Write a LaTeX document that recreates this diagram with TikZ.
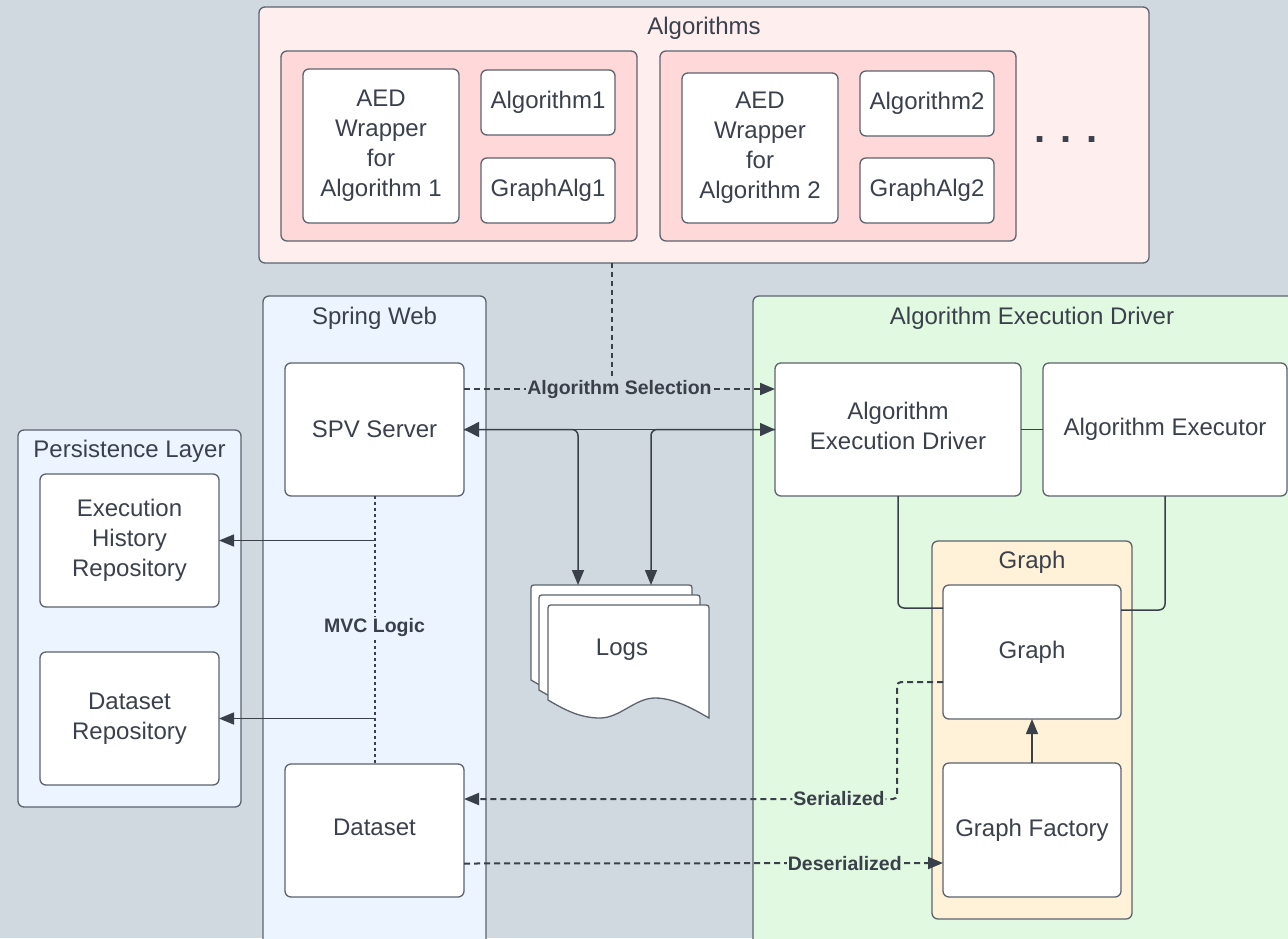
\documentclass[tikz,border=0pt]{standalone}
\usepackage{fontspec}
\setmainfont{Liberation Sans}
\usetikzlibrary{arrows.meta,calc}
\definecolor{bgc}{RGB}{209,217,224}
\definecolor{pinkc}{RGB}{255,238,238}
\definecolor{pinkd}{RGB}{255,216,218}
\definecolor{bluec}{RGB}{236,244,255}
\definecolor{greenc}{RGB}{224,249,224}
\definecolor{orangec}{RGB}{255,242,217}
\definecolor{strokec}{RGB}{92,99,110}
\definecolor{textc}{RGB}{58,65,76}
\definecolor{linec}{RGB}{58,64,74}
\begin{document}
\begin{tikzpicture}[x=1pt,y=-1pt,
  base/.style={draw=strokec, line width=1.3pt, rounded corners=6pt, inner sep=0pt, outer sep=0pt, align=center, text=textc, font=\fontsize{24}{30}\selectfont},
  box/.style={base, fill=white},
  title/.style={text=textc, font=\fontsize{24}{30}\selectfont, inner sep=0pt},
  conn/.style={draw=linec, line width=1.5pt},
  tip/.style={-{Triangle[length=15pt,width=12pt]}},
  dtip/.style={{Triangle[length=15pt,width=15pt]}-{Triangle[length=15pt,width=13pt]}},
  dashline/.style={conn, line width=2pt, dash pattern=on 6pt off 4pt},
  dotline/.style={conn, line width=2pt, dash pattern=on 3pt off 3pt},
  lbl/.style={font=\fontsize{19.5}{22}\bfseries\selectfont, text=linec, inner sep=1pt},
  logpage/.style={draw=strokec, fill=white, line width=1.3pt},
]
\useasboundingbox (0,0) rectangle (1288,938);
\fill[bgc] (0,0) rectangle (1288,938);
\clip (0,0) rectangle (1288,938);

% ---------- Algorithms ----------
\node[base, fill=pinkc, minimum width=890pt, minimum height=256pt] (algs) at (704,135) {};
\node[title] (algsT) at (704,28) {Algorithms};
\node[base, fill=pinkd, minimum width=356pt, minimum height=190pt] (grp1) at (459,146) {};
\node[box, minimum width=156pt, minimum height=154pt] (aed1) at (381,146) {AED\\Wrapper\\for\\Algorithm 1};
\node[box, minimum width=134pt, minimum height=65pt] (alg1) at (548,102.5) {Algorithm1};
\node[box, minimum width=134pt, minimum height=65pt] (galg1) at (548,190.5) {GraphAlg1};
\node[base, fill=pinkd, minimum width=356pt, minimum height=190pt] (grp2) at (838,146) {};
\node[box, minimum width=156pt, minimum height=150pt] (aed2) at (760,148) {AED\\Wrapper\\for\\Algorithm 2};
\node[box, minimum width=134pt, minimum height=65pt] (alg2) at (927,103.5) {Algorithm2};
\node[box, minimum width=134pt, minimum height=65pt] (galg2) at (927,190.5) {GraphAlg2};
\node[text=textc, font=\fontsize{40}{40}\bfseries\selectfont, inner sep=0pt] (dots) at (1066,140) {. . .};

% ---------- Spring Web ----------
\node[base, fill=bluec, minimum width=223pt, minimum height=660pt] (spring) at (374.5,626) {};
\node[title] (springT) at (374.5,318) {Spring Web};
\node[box, minimum width=179pt, minimum height=133pt] (spv) at (374.5,429.5) {SPV Server};
\node[box, minimum width=179pt, minimum height=133pt] (dataset) at (374.5,830.5) {\raisebox{3pt}[\height][\depth]{Dataset}};

% ---------- Persistence Layer ----------
\node[base, fill=bluec, minimum width=223pt, minimum height=377pt] (persist) at (129.5,618.5) {};
\node[title] (persistT) at (129.5,451) {Persistence Layer};
\node[box, minimum width=179pt, minimum height=133pt] (ehr) at (129.5,540.5) {Execution\\History\\Repository};
\node[box, minimum width=179pt, minimum height=133pt] (drepo) at (129.5,718.5) {Dataset\\Repository};

% ---------- Algorithm Execution Driver ----------
\node[base, fill=greenc, minimum width=560pt, minimum height=660pt] (aedc) at (1033,626) {};
\node[title] (aedcT) at (1032,318) {Algorithm Execution Driver};
\node[box, minimum width=246pt, minimum height=133pt] (aed) at (898,429.5) {\raisebox{1pt}[\height][\depth]{\begin{tabular}{@{}c@{}}Algorithm\\Execution Driver\end{tabular}}};
\node[box, minimum width=244pt, minimum height=133pt] (exec) at (1165,429.5) {Algorithm Executor};
\node[base, fill=orangec, minimum width=200pt, minimum height=378pt] (graphc) at (1032,730) {};
\node[title] (graphcT) at (1032,562) {Graph};
\node[box, minimum width=178pt, minimum height=134pt] (graph) at (1032,652) {Graph};
\node[box, minimum width=178pt, minimum height=134pt] (gfac) at (1032,830) {Graph Factory};

% ---------- Logs ----------
\foreach \dx/\dy in {-17/-20,-9/-10,0/0}{
  \begin{scope}[shift={(\dx,\dy)}]
  \draw[logpage] (548,700) -- (548,611) .. controls (548,605) .. (554,605) -- (703,605) .. controls (709,605) .. (709,611) -- (709,718)
     .. controls (695,710) and (675,698) .. (655,698) .. controls (635,698) and (620,718) .. (600,718) .. controls (580,718) and (565,710) .. (548,700) -- cycle;
  \end{scope}
}
\node[title] (logs) at (622,650) {Logs};
\coordinate (lA) at (578,585);
\coordinate (lB) at (651,585);

% ---------- Connectors ----------
\coordinate (sel) at (612,389);
\draw[conn, line width=2pt, dash pattern=on 5pt off 4pt] (algs.south -| sel) -- (sel);
\draw[dashline, tip] (spv.east |- sel) -- node[lbl, fill=bgc] {Algorithm Selection} (aed.west |- sel);
\draw[conn, dtip] (spv.east) -- (aed.west);
\draw[conn, tip, rounded corners=6pt] (spv.east) -| (lA);
\draw[conn, tip, rounded corners=6pt] (aed.west) -| (lB);

\draw[dotline] (spv.south) -- node[lbl, fill=bluec, pos=0.49] {MVC Logic} (dataset.north);
\coordinate (m1) at (374.5,540.5);
\coordinate (m2) at (374.5,718.5);
\draw[conn, tip] (m1) -- (ehr.east);
\draw[conn, tip] (m2) -- (drepo.east);

\draw[conn] (aed.east) -- (exec.west);
\draw[conn, rounded corners=6pt] (aed.south) |- ([yshift=44pt]graph.west);
\draw[conn, rounded corners=6pt] (exec.south) |- ([yshift=42pt]graph.east);
\draw[conn, tip] (gfac.north) -- (graph.south);

\coordinate (gs) at ([yshift=-30pt]graph.west);
\coordinate (ds) at ([yshift=31.5pt]dataset.east);
\coordinate (sx) at (897,0);
\draw[dashline, tip, rounded corners=4pt] (gs) -| (sx |- ds) -- node[lbl, fill=greenc, pos=0.134] {Serialized} (ds);
\draw[dashline, tip] ([yshift=-33pt]dataset.east) -- node[lbl, fill=greenc, pos=0.795] {Deserialized} ([yshift=-33pt]gfac.west);
\end{tikzpicture}
\end{document}
